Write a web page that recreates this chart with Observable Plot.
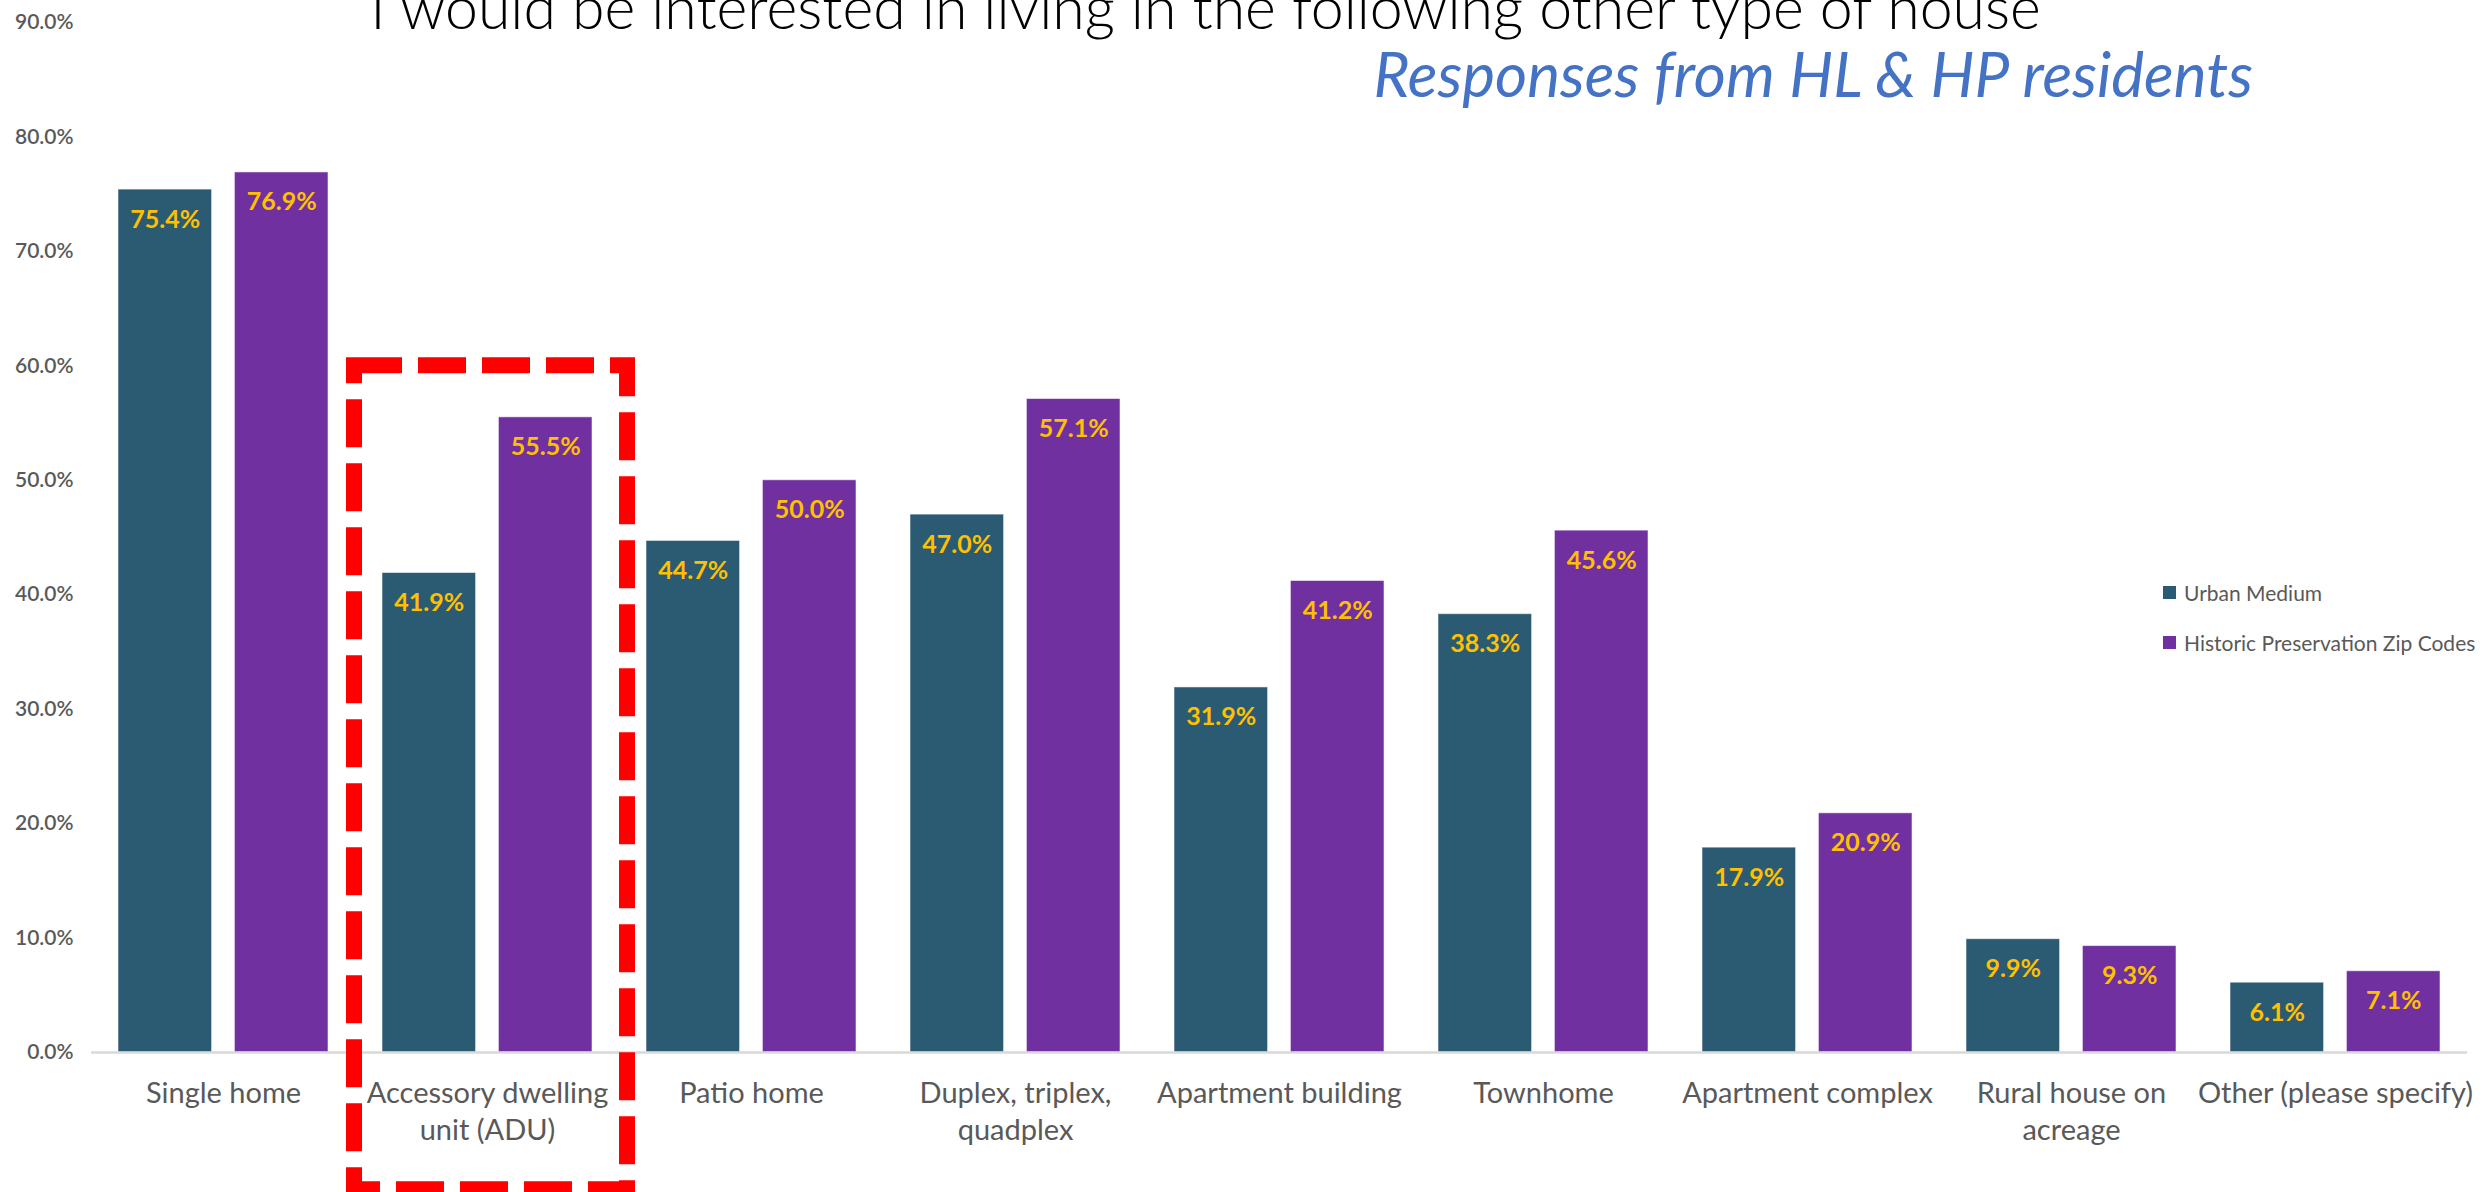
<!DOCTYPE html>
<html>
<head>
<meta charset="utf-8">
<script src="https://cdn.jsdelivr.net/npm/d3@7"></script>
<script src="https://cdn.jsdelivr.net/npm/@observablehq/plot@0.6"></script>
<style>
  html, body { margin: 0; padding: 0; background: #fff; overflow: hidden; }
  #wrap { position: relative; width: 2484px; height: 1192px; }
  #legend { position: absolute; left: 2163px; top: 578px; font-family: Lato, sans-serif; font-size: 21px; color: #595959; }
  #legend .row { display: flex; align-items: center; height: 28px; margin-bottom: 22px; white-space: nowrap; }
  #legend .sw { width: 13px; height: 13px; margin-right: 8px; }
</style>
</head>
<body>
<div id="wrap"><div id="legend"></div></div>
<script>
// ---- data ----
const categories = [
  "Single home", "Accessory dwelling unit (ADU)", "Patio home",
  "Duplex, triplex, quadplex", "Apartment building", "Townhome",
  "Apartment complex", "Rural house on acreage", "Other (please specify)"
];
const categoryLabels = [
  "Single home", "Accessory dwelling\nunit (ADU)", "Patio home",
  "Duplex, triplex,\nquadplex", "Apartment building", "Townhome",
  "Apartment complex", "Rural house on\nacreage", "Other (please specify)"
];
const seriesNames = ["Urban Medium", "Historic Preservation Zip Codes"];
const urbanMedium = [75.4, 41.9, 44.7, 47.0, 31.9, 38.3, 17.9, 9.9, 6.1];
const historicPreservation = [76.9, 55.5, 50.0, 57.1, 41.2, 45.6, 20.9, 9.3, 7.1];
const seriesColors = ["#2B5A73", "#7030A0"];
const yTicks = [0, 10, 20, 30, 40, 50, 60, 70, 80, 90];
const yDomain = [0, 90];
const highlightCategory = ["Accessory dwelling unit (ADU)"];
const highlightRange = [60, -12];
const titleText = "I would be interested in living in the following other type of house";
const subtitleText = "Responses from HL & HP residents";

// ---- build tables ----
const urbanRows = categories.map((c, i) => ({category: c, value: urbanMedium[i]}));
const hpRows = categories.map((c, i) => ({category: c, value: historicPreservation[i]}));
const labelRows = categories.map((c, i) => ({category: c, label: categoryLabels[i]}));
const highlightRows = highlightCategory.map(c => ({category: c, top: highlightRange[0], bottom: highlightRange[1]}));
const pct = d => d.toFixed(1) + "%";

const BAR_INSET = 116.4;   // leaves ~93px wide bars with ~22px gap inside each band
const LABEL_SHIFT = 58.2;

const chart = Plot.plot({
  width: 2484,
  height: 1192,
  marginTop: 22,
  marginBottom: 140,
  marginLeft: 91,
  marginRight: 17,
  style: {fontFamily: "Lato, sans-serif", background: "#fff", overflow: "hidden"},
  x: {domain: categories, paddingInner: 0.205, paddingOuter: 0.1025, axis: null},
  y: {domain: yDomain, axis: null},
  marks: [
    Plot.axisY({ticks: yTicks, tickFormat: pct, tickSize: 0, tickPadding: 18, fontSize: 21, fontWeight: 600, color: "#595959", label: null}),
    Plot.barY(urbanRows, {x: "category", y: "value", fill: seriesColors[0], insetRight: BAR_INSET, stroke: "#ffffff", strokeOpacity: 0.55, strokeWidth: 1}),
    Plot.barY(hpRows, {x: "category", y: "value", fill: seriesColors[1], insetLeft: BAR_INSET, stroke: "#ffffff", strokeOpacity: 0.55, strokeWidth: 1}),
    Plot.ruleY([0], {stroke: "#D9D9D9", strokeWidth: 2.5}),
    Plot.text(urbanRows, {x: "category", y: "value", text: d => pct(d.value), dx: -LABEL_SHIFT, dy: 30, fill: "#FFC000", fontWeight: "bold", fontSize: 25}),
    Plot.text(hpRows, {x: "category", y: "value", text: d => pct(d.value), dx: LABEL_SHIFT, dy: 30, fill: "#FFC000", fontWeight: "bold", fontSize: 25}),
    Plot.text(labelRows, {x: "category", text: "label", frameAnchor: "bottom", lineAnchor: "top", dy: 25, fontSize: 29, lineHeight: 1.26, fill: "#595959"}),
    Plot.barY(highlightRows, {x: "category", y1: "top", y2: "bottom", fill: "none", stroke: "#FF0000", strokeWidth: 16, strokeDasharray: "48,16", insetLeft: -28, insetRight: -35}),
    Plot.text([titleText], {frameAnchor: "top-left", dx: 1114, dy: 6, lineAnchor: "bottom", textAnchor: "middle", fontSize: 59, fontWeight: 300, fill: "#000"}),
    Plot.text([subtitleText], {frameAnchor: "top-left", dx: 1282, dy: 74, lineAnchor: "bottom", textAnchor: "start", fontSize: 62, fontStyle: "italic", fill: "#4472C4"})
  ]
});

document.getElementById("wrap").prepend(chart);

// legend
const legend = document.getElementById("legend");
seriesNames.forEach((name, i) => {
  const row = document.createElement("div");
  row.className = "row";
  const sw = document.createElement("span");
  sw.className = "sw";
  sw.style.background = seriesColors[i];
  const lab = document.createElement("span");
  lab.textContent = name;
  row.append(sw, lab);
  legend.append(row);
});
</script>
</body>
</html>
